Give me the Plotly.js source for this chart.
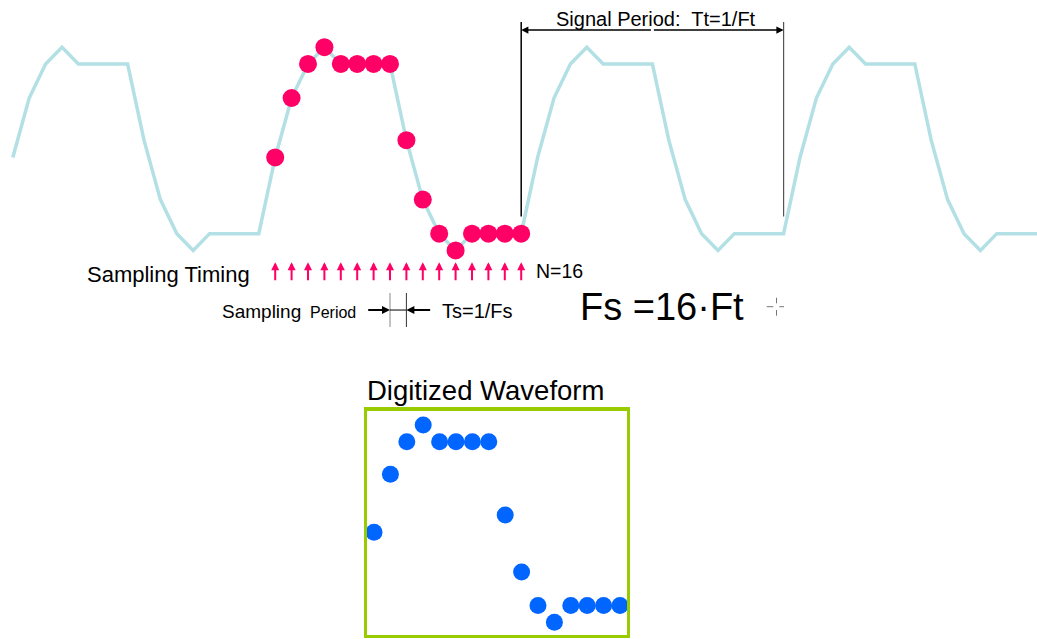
<!DOCTYPE html>
<html>
<head>
<meta charset="utf-8">
<script src="https://cdn.plot.ly/plotly-3.0.1.min.js"></script>
<style>
  html, body { margin: 0; padding: 0; background: #ffffff; }
  #chart { width: 1037px; height: 639px; }
</style>
</head>
<body>
<div id="chart"></div>
<script>
// ---------------- DATA ----------------
// continuous analog waveform (4 periods, 16 samples per period)
const waveIndex = Array.from({length: 64}, (_, i) => i);
const waveValues = [
  -0.085, 0.5, 0.835, 1, 0.835, 0.835, 0.835, 0.835, 0.085, -0.5, -0.835, -1, -0.835, -0.835, -0.835, -0.835,
  -0.085, 0.5, 0.835, 1, 0.835, 0.835, 0.835, 0.835, 0.085, -0.5, -0.835, -1, -0.835, -0.835, -0.835, -0.835,
  -0.085, 0.5, 0.835, 1, 0.835, 0.835, 0.835, 0.835, 0.085, -0.5, -0.835, -1, -0.835, -0.835, -0.835, -0.835,
  -0.085, 0.5, 0.835, 1, 0.835, 0.835, 0.835, 0.835, 0.085, -0.5, -0.835, -1, -0.835, -0.835, -0.835, -0.835
];
// sampled points (second period)
const sampleIndex = [16, 17, 18, 19, 20, 21, 22, 23, 24, 25, 26, 27, 28, 29, 30, 31];
const sampleValues = [-0.085, 0.5, 0.835, 1, 0.835, 0.835, 0.835, 0.835, 0.085, -0.5, -0.835, -1, -0.835, -0.835, -0.835, -0.835];
// digitized waveform (N = 16)
const digitIndex = [0, 1, 2, 3, 4, 5, 6, 7, 8, 9, 10, 11, 12, 13, 14, 15];
const digitValues = [-0.087, 0.5, 0.83, 1, 0.83, 0.83, 0.83, 0.83, 0.088, -0.49, -0.83, -1, -0.83, -0.83, -0.83, -0.83];

// period markers (sample index)
const periodStart = 31;
const periodEnd = 47;
const tsStart = 23;
const tsEnd = 24;

// texts
const txtSignalPeriod = "Signal Period:  Tt=1/Ft";
const txtSamplingTiming = "Sampling Timing";
const txtN = "N=16";
const txtSampling = "Sampling";
const txtPeriod = "Period";
const txtTs = "Ts=1/Fs";
const txtFs = "Fs =16\u00B7Ft";
const txtDigitized = "Digitized Waveform";

// ---------------- STYLE / LAYOUT ----------------
const W = 1037, H = 639;
const FONT = "Liberation Sans, Arial, Helvetica, sans-serif";
const PX = x => x / W;
const PY = y => 1 - y / H;

const traces = [
  {
    x: waveIndex, y: waveValues, type: 'scatter', mode: 'lines',
    line: {color: '#b3e0e4', width: 3.5}, hoverinfo: 'skip', xaxis: 'x', yaxis: 'y'
  },
  {
    x: sampleIndex, y: sampleValues, type: 'scatter', mode: 'markers',
    marker: {color: '#ff0066', size: 18}, xaxis: 'x', yaxis: 'y', cliponaxis: false
  },
  {
    x: digitIndex, y: digitValues, type: 'scatter', mode: 'markers',
    marker: {color: '#0066ff', size: 17}, xaxis: 'x2', yaxis: 'y2', cliponaxis: false
  }
];

const annotations = [];
function txt(text, x, y, size, xanchor) {
  annotations.push({
    text: text, xref: 'paper', yref: 'paper', x: PX(x), y: PY(y),
    xanchor: xanchor || 'left', yanchor: 'middle', showarrow: false,
    font: {family: FONT, size: size, color: '#000'}
  });
}
txt(txtSignalPeriod, 656, 19.5, 20, 'center');
txt(txtSamplingTiming, 85, 274, 22);
txt(txtN, 534, 270.5, 19.5);
txt(txtSampling, 220, 311.5, 19);
txt(txtPeriod, 308, 312.5, 16);
txt(txtTs, 440, 311, 20);
txt(txtFs, 578, 307.5, 38);
txt(txtDigitized, 365, 391, 27.5);

// sampling timing arrows
const arrowHeadY = -1.117, arrowTailY = -1.308;
sampleIndex.forEach(i => {
  annotations.push({
    x: i, y: arrowHeadY, ax: i, ay: arrowTailY, xref: 'x', yref: 'y', axref: 'x', ayref: 'y',
    text: '', showarrow: true, arrowhead: 2, arrowwidth: 2, arrowsize: 0.8, arrowcolor: '#ff0066', standoff: 0
  });
});

// signal period bracket arrows
const bracketY = 1.169;
const midP = (periodStart + periodEnd) / 2;
[[periodStart, midP], [periodEnd, midP]].forEach(([h, t]) => {
  annotations.push({
    x: h, y: bracketY, ax: t, ay: bracketY, xref: 'x', yref: 'y', axref: 'x', ayref: 'y',
    text: '', showarrow: true, arrowhead: 2, arrowwidth: 1.6, arrowsize: 0.9, arrowcolor: '#000', standoff: 0
  });
});

// sampling period arrows
const tsY = -1.587;
[[tsStart, 21.58], [tsEnd, 25.54]].forEach(([h, t]) => {
  annotations.push({
    x: h, y: tsY, ax: t, ay: tsY, xref: 'x', yref: 'y', axref: 'x', ayref: 'y',
    text: '', showarrow: true, arrowhead: 2, arrowwidth: 2, arrowsize: 0.8, arrowcolor: '#000', standoff: 0
  });
});

const shapes = [
  // signal period vertical lines
  {type: 'line', xref: 'x', yref: 'y', x0: periodStart, x1: periodStart, y0: 1.248, y1: -0.667, line: {color: '#000', width: 1.5}},
  {type: 'line', xref: 'x', yref: 'y', x0: periodEnd, x1: periodEnd, y0: 1.248, y1: -0.667, line: {color: '#555', width: 1.2}},
  // sampling period ticks
  {type: 'line', xref: 'x', yref: 'y', x0: tsStart, x1: tsStart, y0: -1.419, y1: -1.754, line: {color: '#888', width: 1}},
  {type: 'line', xref: 'x', yref: 'y', x0: tsEnd, x1: tsEnd, y0: -1.419, y1: -1.754, line: {color: '#333', width: 1}},
  {type: 'line', xref: 'x', yref: 'y', x0: tsStart, x1: tsEnd, y0: tsY, y1: tsY, line: {color: '#000', width: 1}},
  // small cross mark
  {type: 'line', xref: 'paper', yref: 'paper', x0: PX(766.7), x1: PX(773.3), y0: PY(306.7), y1: PY(306.7), line: {color: '#777', width: 1}},
  {type: 'line', xref: 'paper', yref: 'paper', x0: PX(779.3), x1: PX(784), y0: PY(306.7), y1: PY(306.7), line: {color: '#777', width: 1}},
  {type: 'line', xref: 'paper', yref: 'paper', x0: PX(776.5), x1: PX(776.5), y0: PY(297.7), y1: PY(303.3), line: {color: '#777', width: 1}},
  {type: 'line', xref: 'paper', yref: 'paper', x0: PX(776.5), x1: PX(776.5), y0: PY(310), y1: PY(315.7), line: {color: '#777', width: 1}}
];

const hidden = {showgrid: false, zeroline: false, showticklabels: false, ticks: '', showline: false, fixedrange: true};

const layout = {
  width: W, height: H,
  margin: {l: 0, r: 0, t: 0, b: 0, pad: 0},
  paper_bgcolor: '#ffffff', plot_bgcolor: 'rgba(0,0,0,0)',
  showlegend: false,
  xaxis: Object.assign({}, hidden, {domain: [0, 1], range: [-0.7805, 62.451]}),
  yaxis: Object.assign({}, hidden, {domain: [0, 1], range: [-4.8248, 1.4646]}),
  xaxis2: Object.assign({}, hidden, {domain: [PX(367.3), PX(626.7)], range: [-0.41, 15.41], anchor: 'y2',
    showline: true, mirror: true, linewidth: 3.3, linecolor: '#99cc00'}),
  yaxis2: Object.assign({}, hidden, {domain: [PY(634.5), PY(410.7)], range: [-1.123, 1.145], anchor: 'x2',
    showline: true, mirror: true, linewidth: 3.3, linecolor: '#99cc00'}),
  annotations: annotations,
  shapes: shapes,
  font: {family: FONT}
};

Plotly.newPlot('chart', traces, layout, {displayModeBar: false, staticPlot: true});
</script>
</body>
</html>
